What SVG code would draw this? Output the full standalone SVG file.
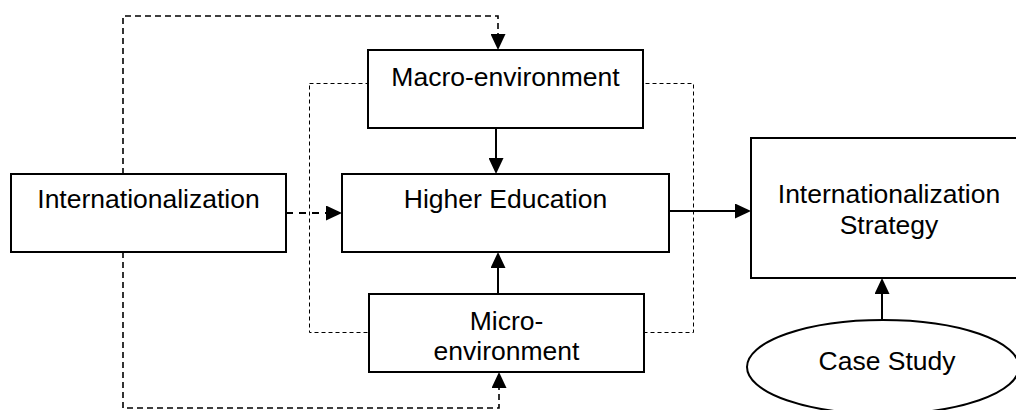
<svg xmlns="http://www.w3.org/2000/svg" width="1016" height="410" viewBox="0 0 1016 410">
  <style>
    .box { fill: #ffffff; stroke: #000000; stroke-width: 2; }
    .label { font-family: "Liberation Sans", Arial, sans-serif; font-size: 26.5px; fill: #000000; text-anchor: middle; }
    .solid { fill: none; stroke: #000000; stroke-width: 2; }
    .dash-loop { fill: none; stroke: #000000; stroke-width: 1.6; stroke-dasharray: 6 4; }
    .dash-main { fill: none; stroke: #000000; stroke-width: 2; stroke-dasharray: 7 6; }
    .boundary { fill: none; stroke: #000000; stroke-width: 1; stroke-dasharray: 4 3; }
  </style>
  <defs>
    <marker id="arrow" markerUnits="userSpaceOnUse" markerWidth="16" markerHeight="15" refX="13" refY="7.5" orient="auto">
      <path d="M0,0 L16,7.5 L0,15 Z" fill="#000000"/>
    </marker>
  </defs>
  <rect width="1016" height="410" fill="#ffffff"/>

  <!-- environment boundary around macro / higher education / micro -->
  <g id="environment-boundary">
    <rect class="boundary" x="309.5" y="83.5" width="384" height="249"/>
  </g>

  <!-- connectors -->
  <g id="connectors">
    <path class="dash-loop" d="M123,174 V16 H498 V47" marker-end="url(#arrow)"/>
    <path class="dash-loop" d="M123,252 V408 H499 V375" marker-end="url(#arrow)"/>
    <path class="dash-main" d="M286,213 H339" marker-end="url(#arrow)"/>
    <path class="solid" d="M496,128 V171" marker-end="url(#arrow)"/>
    <path class="solid" d="M498,294 V255" marker-end="url(#arrow)"/>
    <path class="solid" d="M669,211 H748" marker-end="url(#arrow)"/>
    <path class="solid" d="M882,320 V281" marker-end="url(#arrow)"/>
  </g>

  <g id="internationalization">
    <rect class="box" x="11" y="174" width="275" height="78"/>
    <text class="label" x="148.5" y="208">Internationalization</text>
  </g>

  <g id="macro-environment">
    <rect class="box" x="368" y="50" width="275" height="78"/>
    <text class="label" x="505.5" y="86">Macro-environment</text>
  </g>

  <g id="higher-education">
    <rect class="box" x="342" y="174" width="327" height="78"/>
    <text class="label" x="505.5" y="208">Higher Education</text>
  </g>

  <g id="micro-environment">
    <rect class="box" x="369" y="294" width="275" height="78"/>
    <text class="label" x="506.5" y="330">Micro-</text>
    <text class="label" x="506.5" y="360">environment</text>
  </g>

  <g id="internationalization-strategy">
    <rect class="box" x="751" y="138" width="276" height="140"/>
    <text class="label" x="889" y="203">Internationalization</text>
    <text class="label" x="889" y="234">Strategy</text>
  </g>

  <g id="case-study">
    <ellipse class="box" cx="883" cy="367" rx="136" ry="47"/>
    <text class="label" x="887" y="370">Case Study</text>
  </g>
</svg>
